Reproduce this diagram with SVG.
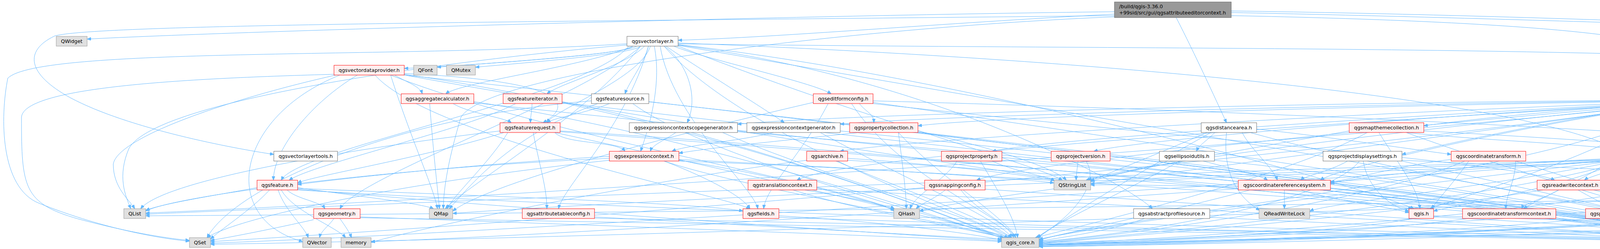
<svg xmlns="http://www.w3.org/2000/svg" width="6568" height="637" viewBox="0 0 6568 637">
<defs>
<style>
.e path{fill:none;stroke:#63B8FF;stroke-width:1;marker-end:url(#ah)}
.g rect{fill:#E0E0E0;stroke:#999999;stroke-width:1}
.w rect{fill:#FFFFFF;stroke:#666666;stroke-width:1}
.r rect{fill:#FFF0F0;stroke:#FF0000;stroke-width:1}
.rt rect{fill:#999999;stroke:#666666;stroke-width:1}
text{font-family:"DejaVu Sans","Liberation Sans",sans-serif;font-size:12.8px;fill:#000000}
.n text{text-anchor:middle}
.rt text{text-anchor:start}
</style>
<marker id="ah" viewBox="0 0 10 8" refX="10" refY="4" markerWidth="10" markerHeight="8" markerUnits="userSpaceOnUse" orient="auto"><path d="M0,0L10,4L0,8z" fill="#63B8FF" stroke="#63B8FF" stroke-width="1"/></marker>
</defs>
<rect width="6568" height="637" fill="#FFFFFF"/>
<g id="connectors" class="e">
<path d="M2853,30 C2000,40 600,80 223,100"/>
<path d="M2853,36 C2400,60 2000,95 1736,103"/>
<path d="M3152,28 C4000,40 4900,80 5161,100"/>
<path d="M3011,45 C3060,140 3110,250 3140,314"/>
<path d="M2853,40 C1500,55 250,60 140,92 C60,130 70,190 180,250 C330,330 600,380 701,395"/>
<path d="M3152,40 C3900,55 4250,90 4300,140 C4335,180 4340,210 4341,240"/>
<path d="M3152,32 C4500,60 6450,140 6560,180 C6565,300 6562,480 6540,540 C6450,600 6300,605 6174,612"/>
<path d="M2853,43 C2200,70 1250,180 1180,300 C1150,400 1135,480 1135,534"/>
<path d="M1620,118 C1620,140 1125,172 1035,175"/>
<path d="M1630,118 C1600,140 1200,165 1119,172"/>
<path d="M1640,118 C1620,140 1290,165 1217,172"/>
<path d="M1620,118 C1500,170 1180,210 1141,240"/>
<path d="M1650,118 C1600,170 1440,210 1400,240"/>
<path d="M1660,118 C1650,160 1610,210 1600,240"/>
<path d="M1665,118 C1640,200 1420,280 1400,314"/>
<path d="M1700,118 C1760,160 1790,250 1759,314"/>
<path d="M1705,118 C1750,150 1960,280 2008,314"/>
<path d="M1725,118 C1800,150 2080,210 2128,240"/>
<path d="M1675,118 C1695,220 1660,330 1640,387"/>
<path d="M1610,118 C1500,250 760,380 720,461"/>
<path d="M1690,118 C1720,300 1930,480 1940,534"/>
<path d="M1660,118 C1600,330 1440,480 1430,534"/>
<path d="M1736,112 C3000,130 4500,110 5200,200 C5400,300 5460,400 5460,461"/>
<path d="M1736,115 C2400,200 2900,480 2950,534"/>
<path d="M1736,110 C2800,150 3900,250 4150,387"/>
<path d="M1736,114 C2500,200 3500,480 3620,534"/>
<path d="M1700,118 C1900,350 2500,560 2590,608"/>
<path d="M1736,116 C2800,300 4300,550 4460,608"/>
<path d="M1640,118 C1500,300 1200,470 1140,534"/>
<path d="M1605,112 C1000,150 100,120 20,200 C0,300 0,480 100,520 C250,580 400,610 485,617"/>
<path d="M1605,115 C1200,150 400,250 330,380 C300,450 320,500 335,534"/>
<path d="M1736,118 C2200,300 2650,420 2720,461"/>
<path d="M1640,118 C1500,250 920,450 870,534"/>
<path d="M1010,192 C1040,210 1075,220 1081,240"/>
<path d="M1035,188 C1500,210 1450,280 1390,314"/>
<path d="M915,192 C800,260 700,380 700,461"/>
<path d="M960,192 C1100,350 1850,500 1920,534"/>
<path d="M1000,192 C1050,350 1110,480 1120,534"/>
<path d="M860,192 C600,250 300,350 290,420 C290,480 330,510 345,534"/>
<path d="M855,190 C500,200 60,220 55,300 C55,480 60,520 200,560 C350,600 450,612 485,615"/>
<path d="M1000,192 C1400,350 2200,480 2290,540"/>
<path d="M1035,190 C1800,300 2450,560 2570,612"/>
<path d="M1035,192 C2500,350 4300,560 4440,612"/>
<path d="M1035,192 C1800,330 2600,440 2720,461"/>
<path d="M870,192 C600,300 560,560 775,618"/>
<path d="M1160,265 C1200,290 1290,300 1309,314"/>
<path d="M1100,265 C1110,400 1120,480 1125,534"/>
<path d="M1213,260 C1800,350 2450,570 2575,612"/>
<path d="M1213,263 C2500,400 4300,570 4450,613"/>
<path d="M1362,265 C1362,285 1358,295 1358,314"/>
<path d="M1320,265 C1200,330 800,420 740,461"/>
<path d="M1439,260 C1900,350 2450,560 2580,612"/>
<path d="M1439,262 C2600,400 4300,570 4455,613"/>
<path d="M1560,265 C1500,290 1420,300 1400,314"/>
<path d="M1514,258 C1000,300 600,480 530,608"/>
<path d="M1620,265 C1800,400 2450,570 2585,610"/>
<path d="M1661,260 C2700,380 4300,570 4460,612"/>
<path d="M1530,265 C1300,350 1200,480 1150,534"/>
<path d="M1420,339 C1450,370 1580,360 1600,387"/>
<path d="M1300,339 C1250,420 1160,500 1145,534"/>
<path d="M1365,339 C1380,420 1400,480 1400,534"/>
<path d="M1434,335 C2200,380 3400,500 3615,534"/>
<path d="M1420,339 C1800,420 2450,570 2590,608"/>
<path d="M1434,337 C2600,420 4300,570 4465,608"/>
<path d="M1280,335 C900,380 420,460 360,534"/>
<path d="M1290,339 C1100,400 800,450 762,468"/>
<path d="M2200,265 C2220,290 2237,290 2237,314"/>
<path d="M2082,262 C1700,350 1250,470 1159,540"/>
<path d="M2120,265 C2050,400 1960,480 1955,534"/>
<path d="M2180,265 C2300,450 2580,560 2600,608"/>
<path d="M2235,262 C3200,400 4300,570 4470,610"/>
<path d="M2235,265 C3000,350 3900,420 3980,461"/>
<path d="M2235,258 C3800,300 5600,400 5690,534"/>
<path d="M4393,262 C4450,280 4540,300 4581,318"/>
<path d="M4393,261 C4500,280 4640,300 4685,318"/>
<path d="M4393,260 C4550,275 4750,300 4805,318"/>
<path d="M4290,262 C4000,280 3720,310 3645,322"/>
<path d="M4290,258 C3500,270 2500,300 2350,322"/>
<path d="M4290,257 C3500,265 2300,300 2151,318"/>
<path d="M4290,256 C3300,262 2100,295 1888,318"/>
<path d="M4290,265 C4000,300 3650,380 3589,395"/>
<path d="M4350,265 C4360,330 4320,390 4253,397"/>
<path d="M4330,265 C4340,380 4200,440 4100,463"/>
<path d="M4360,265 C4380,400 4300,530 4223,540"/>
<path d="M4310,265 C4200,400 3950,500 3900,534"/>
<path d="M4290,264 C3900,320 3420,430 3380,461"/>
<path d="M4290,263 C3500,330 2600,420 2500,461"/>
<path d="M4290,262 C3600,300 2900,360 2800,387"/>
<path d="M4290,261 C3500,300 2650,360 2540,387"/>
<path d="M4290,260 C3400,290 2300,360 2150,387"/>
<path d="M4290,264 C3300,320 2150,400 2040,461"/>
<path d="M4393,264 C4450,350 4520,480 4520,534"/>
<path d="M4393,265 C4600,350 4850,420 4858,461"/>
<path d="M4393,262 C4700,300 5050,350 5115,461"/>
<path d="M4393,258 C5200,280 5900,320 6108,461"/>
<path d="M4393,256 C5300,270 6200,320 6391,461"/>
<path d="M4393,263 C5300,300 6200,420 6164,534"/>
<path d="M4393,255 C5500,260 6400,300 6490,460 C6510,500 6450,530 6389,540"/>
<path d="M4393,264 C5000,320 5650,450 5690,534"/>
<path d="M4290,265 C3000,400 1000,520 373,545"/>
<path d="M4290,265 C3600,330 2900,420 2780,461"/>
<path d="M4290,265 C3500,380 2500,500 2354,540"/>
<path d="M4290,265 C3000,450 1200,580 539,618"/>
<path d="M4300,265 C4000,450 2800,560 2660,615"/>
<path d="M4380,265 C4420,400 4470,560 4475,608"/>
<path d="M4370,265 C4380,350 4350,430 4320,461"/>
<path d="M4300,265 C4100,400 3720,510 3660,534"/>
<path d="M4957,335 C5400,380 5680,480 5700,534"/>
<path d="M4820,339 C4700,360 4260,370 4240,387"/>
<path d="M4805,339 C4000,420 2900,560 2660,612"/>
<path d="M4850,339 C4700,450 4530,560 4500,608"/>
<path d="M3645,335 C4500,380 5500,470 5675,534"/>
<path d="M3600,339 C3800,360 4100,370 4165,387"/>
<path d="M3454,335 C3200,380 2850,440 2792,465"/>
<path d="M3500,339 C3300,450 2800,570 2650,608"/>
<path d="M3600,339 C3900,450 4350,570 4445,610"/>
<path d="M3530,339 C3580,420 3630,480 3635,534"/>
<path d="M3110,339 C3090,360 3070,370 3063,387"/>
<path d="M3217,330 C3400,350 3600,380 3715,395"/>
<path d="M3180,339 C3200,380 3260,430 3270,461"/>
<path d="M3090,339 C2950,400 2820,450 2792,463"/>
<path d="M3100,339 C2900,450 2720,560 2655,610"/>
<path d="M3200,339 C3600,450 4300,560 4440,612"/>
<path d="M3140,339 C3130,430 3160,500 3225,538"/>
<path d="M2200,339 C2000,360 1800,380 1738,392"/>
<path d="M2300,339 C2310,420 2320,490 2320,534"/>
<path d="M2350,335 C2550,380 2700,430 2730,461"/>
<path d="M2300,339 C2400,450 2580,560 2600,608"/>
<path d="M2350,339 C3000,420 4200,560 4445,612"/>
<path d="M1980,339 C1900,360 1760,370 1720,387"/>
<path d="M2100,339 C2300,450 2560,560 2590,608"/>
<path d="M2151,335 C3000,420 4200,560 4440,614"/>
<path d="M1730,339 C1700,360 1670,370 1665,387"/>
<path d="M1850,339 C2100,450 2520,560 2580,610"/>
<path d="M1888,337 C2900,420 4200,560 4450,612"/>
<path d="M1738,410 C2000,450 2250,520 2290,538"/>
<path d="M1738,408 C2200,430 2600,455 2698,468"/>
<path d="M1560,410 C1000,470 600,560 530,608"/>
<path d="M1560,405 C1000,430 450,500 373,540"/>
<path d="M1700,412 C1800,450 1900,500 1920,534"/>
<path d="M1560,400 C1200,420 850,460 762,472"/>
<path d="M1700,412 C1900,480 2450,570 2580,612"/>
<path d="M1738,412 C2800,450 4300,580 4450,615"/>
<path d="M2170,405 C2400,420 2650,450 2700,462"/>
<path d="M2140,412 C2300,480 2550,570 2590,610"/>
<path d="M2170,410 C3000,460 4300,580 4455,614"/>
<path d="M2065,410 C1600,470 1050,590 950,620"/>
<path d="M2450,412 C2420,460 2340,500 2330,534"/>
<path d="M2540,412 C2600,440 2680,450 2700,463"/>
<path d="M2510,412 C2550,480 2600,560 2605,608"/>
<path d="M2565,410 C3200,460 4300,580 4460,615"/>
<path d="M2760,412 C2758,430 2755,445 2755,461"/>
<path d="M2780,412 C2820,470 2740,560 2650,610"/>
<path d="M3080,412 C3150,430 3230,450 3245,461"/>
<path d="M2990,412 C2900,440 2800,455 2785,461"/>
<path d="M3020,412 C2900,480 2700,570 2655,608"/>
<path d="M3109,410 C3600,460 4300,580 4445,616"/>
<path d="M3450,412 C3400,440 3340,450 3330,461"/>
<path d="M3490,412 C3500,480 3560,530 3607,540"/>
<path d="M3589,410 C4500,450 5500,500 5664,540"/>
<path d="M3480,412 C3400,520 2900,600 2660,618"/>
<path d="M3589,412 C3900,480 4350,580 4445,617"/>
<path d="M3715,408 C3600,420 3480,455 3406,466"/>
<path d="M3880,412 C3880,460 3855,500 3855,534"/>
<path d="M3760,412 C3720,470 3680,510 3665,534"/>
<path d="M3750,412 C3500,520 2900,600 2660,620"/>
<path d="M3880,412 C4100,480 4400,580 4450,610"/>
<path d="M4170,412 C4130,440 4070,450 4056,461"/>
<path d="M4134,405 C3800,420 3480,450 3406,470"/>
<path d="M4253,405 C4800,430 5500,500 5670,536"/>
<path d="M4134,410 C3000,480 1200,600 539,622"/>
<path d="M4134,408 C3000,440 1000,520 373,548"/>
<path d="M4134,409 C3000,450 1500,520 1159,546"/>
<path d="M4140,412 C3800,430 3000,455 2792,470"/>
<path d="M4150,412 C4000,480 3750,520 3670,540"/>
<path d="M4160,412 C3800,520 2900,600 2660,622"/>
<path d="M4220,412 C4300,500 4440,570 4460,608"/>
<path d="M4140,412 C3800,480 3400,520 3353,540"/>
<path d="M4134,410 C3000,500 1500,600 950,618"/>
<path d="M735,486 C760,510 820,515 832,534"/>
<path d="M712,486 C730,540 780,580 789,608"/>
<path d="M720,486 C750,540 860,580 885,608"/>
<path d="M658,480 C550,500 420,520 373,538"/>
<path d="M690,486 C640,540 560,590 539,612"/>
<path d="M762,480 C900,500 1080,520 1110,534"/>
<path d="M762,482 C1200,500 1800,520 1902,540"/>
<path d="M762,484 C1400,540 2300,600 2564,616"/>
<path d="M762,486 C2000,560 4000,600 4439,618"/>
<path d="M2030,486 C2200,540 2500,590 2570,608"/>
<path d="M2091,484 C3000,530 4200,600 4439,620"/>
<path d="M2060,486 C2200,510 2270,525 2290,534"/>
<path d="M2420,486 C2390,510 2360,520 2345,534"/>
<path d="M2460,486 C2500,540 2580,570 2595,608"/>
<path d="M2522,484 C3200,530 4200,600 4439,622"/>
<path d="M3288,486 C3288,505 3288,515 3288,534"/>
<path d="M3330,486 C3400,510 3560,530 3607,544"/>
<path d="M3200,486 C3000,540 2750,590 2660,614"/>
<path d="M3380,486 C3800,530 4300,600 4439,624"/>
<path d="M3170,478 C3000,475 2850,472 2792,473"/>
<path d="M3990,486 C3950,510 3900,520 3896,534"/>
<path d="M4040,486 C4080,510 4110,520 4115,534"/>
<path d="M3950,486 C3500,560 2900,600 2660,624"/>
<path d="M4080,486 C4300,540 4440,580 4460,608"/>
<path d="M4331,480 C4900,500 5500,520 5664,544"/>
<path d="M4200,486 C3800,560 3000,610 2660,626"/>
<path d="M4260,486 C4300,540 4430,590 4450,608"/>
<path d="M4809,486 C4700,560 4600,600 4526,615"/>
<path d="M4708,484 C4000,560 3000,615 2660,628"/>
<path d="M5236,480 C5450,500 5600,520 5664,536"/>
<path d="M5006,480 C3500,540 1500,610 539,625"/>
<path d="M5100,486 C4500,570 3200,620 2660,630"/>
<path d="M5050,486 C4900,560 4600,600 4526,618"/>
<path d="M5502,486 C5560,505 5630,525 5664,538"/>
<path d="M5362,484 C4500,570 3200,625 2660,631"/>
<path d="M5400,486 C5000,570 4700,600 4526,620"/>
<path d="M6160,486 C6230,505 6300,525 6333,538"/>
<path d="M6043,482 C5900,500 5780,520 5739,536"/>
<path d="M6043,484 C4000,520 1000,550 373,552"/>
<path d="M6080,486 C5000,570 3500,620 2660,631"/>
<path d="M6060,486 C5500,560 4800,610 4526,622"/>
<path d="M6396,486 C6390,505 6375,520 6372,534"/>
<path d="M6334,478 C6100,490 5850,520 5739,540"/>
<path d="M6410,486 C6430,540 6420,565 6380,570 C5500,580 3500,600 2660,626"/>
<path d="M6334,484 C5800,540 5000,600 4526,624"/>
<path d="M6122,559 C6122,575 6122,590 6122,608"/>
<path d="M6067,550 C5000,570 3500,600 2660,628"/>
<path d="M6067,555 C5500,580 4800,610 4526,626"/>
<path d="M3620,559 C3400,600 2900,615 2660,621"/>
<path d="M3670,555 C4000,570 4350,600 4439,612"/>
<path d="M3670,552 C4500,580 5800,610 6071,618"/>
<path d="M3760,559 C3400,605 2900,618 2660,624"/>
<path d="M3960,559 C4200,590 4380,605 4439,614"/>
<path d="M4070,559 C3600,605 3000,620 2660,626"/>
<path d="M4200,559 C4300,590 4420,600 4445,608"/>
<path d="M4482,559 C4482,575 4482,590 4482,608"/>
<path d="M4399,555 C3800,600 3000,622 2660,628"/>
<path d="M1522,555 C2000,580 2400,605 2564,612"/>
<path d="M1522,558 C3000,590 4200,610 4439,616"/>
<path d="M1994,552 C2300,570 2500,600 2564,614"/>
<path d="M1994,556 C3000,590 4200,612 4439,620"/>
<path d="M855,559 C840,580 822,590 818,608"/>
<path d="M870,559 C885,580 895,595 900,608"/>
<path d="M803,562 C700,585 600,605 539,615"/>
<path d="M922,555 C1500,575 2300,605 2564,618"/>
<path d="M922,557 C2500,585 4200,612 4439,622"/>
<path d="M2930,559 C2850,590 2700,610 2660,617"/>
<path d="M3097,556 C3600,580 4300,610 4439,626"/>
</g>
<g id="nodes">
<g id="root" class="rt"><rect x="2853" y="5" width="299" height="40"/><text x="2865" y="21">/build/qgis-3.36.0</text><text x="2865" y="37">+99sid/src/gui/qgsattributeeditorcontext.h</text></g>
<g id="n_QWidget" class="n g"><rect x="144" y="93" width="79" height="25"/><text x="183.5" y="110">QWidget</text></g>
<g id="n_vectorlayer" class="n w"><rect x="1605" y="93" width="131" height="25"/><text x="1670.5" y="110">qgsvectorlayer.h</text></g>
<g id="n_qgis_gui" class="n g"><rect x="5161" y="93" width="88" height="25"/><text x="5205" y="110">qgis_gui.h</text></g>
<g id="n_vectordataprovider" class="n r"><rect x="855" y="167" width="180" height="25"/><text x="945" y="184">qgsvectordataprovider.h</text></g>
<g id="n_QFont" class="n g"><rect x="1059" y="167" width="60" height="25"/><text x="1089" y="184">QFont</text></g>
<g id="n_QMutex" class="n g"><rect x="1143" y="167" width="74" height="25"/><text x="1180" y="184">QMutex</text></g>
<g id="n_aggregatecalculator" class="n r"><rect x="1027" y="240" width="186" height="25"/><text x="1120" y="257">qgsaggregatecalculator.h</text></g>
<g id="n_featureiterator" class="n r"><rect x="1288" y="240" width="151" height="25"/><text x="1363.5" y="257">qgsfeatureiterator.h</text></g>
<g id="n_featuresource" class="n w"><rect x="1514" y="240" width="147" height="25"/><text x="1587.5" y="257">qgsfeaturesource.h</text></g>
<g id="n_editformconfig" class="n r"><rect x="2082" y="240" width="153" height="25"/><text x="2158.5" y="257">qgseditformconfig.h</text></g>
<g id="n_project" class="n w"><rect x="4290" y="240" width="103" height="25"/><text x="4341.5" y="257">qgsproject.h</text></g>
<g id="n_featurerequest" class="n r"><rect x="1280" y="314" width="154" height="25"/><text x="1357" y="331">qgsfeaturerequest.h</text></g>
<g id="n_ecscopegenerator" class="n w"><rect x="1611" y="314" width="277" height="25"/><text x="1749.5" y="331">qgsexpressioncontextscopegenerator.h</text></g>
<g id="n_ecgenerator" class="n w"><rect x="1912" y="314" width="239" height="25"/><text x="2031.5" y="331">qgsexpressioncontextgenerator.h</text></g>
<g id="n_propertycollection" class="n r"><rect x="2175" y="314" width="175" height="25"/><text x="2262.5" y="331">qgspropertycollection.h</text></g>
<g id="n_distancearea" class="n w"><rect x="3075" y="314" width="142" height="25"/><text x="3146" y="331">qgsdistancearea.h</text></g>
<g id="n_mapthemecollection" class="n r"><rect x="3454" y="314" width="191" height="25"/><text x="3549.5" y="331">qgsmapthemecollection.h</text></g>
<g id="n_QFileInfo" class="n g"><rect x="4581" y="314" width="80" height="25"/><text x="4621" y="331">QFileInfo</text></g>
<g id="n_QTranslator" class="n g"><rect x="4685" y="314" width="96" height="25"/><text x="4733" y="331">QTranslator</text></g>
<g id="n_maplayerstore" class="n w"><rect x="4805" y="314" width="152" height="25"/><text x="4881" y="331">qgsmaplayerstore.h</text></g>
<g id="n_vectorlayertools" class="n w"><rect x="701" y="387" width="163" height="25"/><text x="782.5" y="404">qgsvectorlayertools.h</text></g>
<g id="n_expressioncontext" class="n r"><rect x="1560" y="387" width="178" height="25"/><text x="1649" y="404">qgsexpressioncontext.h</text></g>
<g id="n_archive" class="n r"><rect x="2065" y="387" width="105" height="25"/><text x="2117.5" y="404">qgsarchive.h</text></g>
<g id="n_projectproperty" class="n r"><rect x="2410" y="387" width="155" height="25"/><text x="2487.5" y="404">qgsprojectproperty.h</text></g>
<g id="n_projectversion" class="n r"><rect x="2691" y="387" width="151" height="25"/><text x="2766.5" y="404">qgsprojectversion.h</text></g>
<g id="n_ellipsoidutils" class="n w"><rect x="2968" y="387" width="141" height="25"/><text x="3038.5" y="404">qgsellipsoidutils.h</text></g>
<g id="n_projectdisplaysettings" class="n w"><rect x="3387" y="387" width="202" height="25"/><text x="3488" y="404">qgsprojectdisplaysettings.h</text></g>
<g id="n_coordinatetransform" class="n r"><rect x="3715" y="387" width="191" height="25"/><text x="3810.5" y="404">qgscoordinatetransform.h</text></g>
<g id="n_maplayer" class="n r"><rect x="4134" y="387" width="119" height="25"/><text x="4193.5" y="404">qgsmaplayer.h</text></g>
<g id="n_feature" class="n r"><rect x="658" y="461" width="104" height="25"/><text x="710" y="478">qgsfeature.h</text></g>
<g id="n_translationcontext" class="n r"><rect x="1915" y="461" width="176" height="25"/><text x="2003" y="478">qgstranslationcontext.h</text></g>
<g id="n_snappingconfig" class="n r"><rect x="2367" y="461" width="155" height="25"/><text x="2444.5" y="478">qgssnappingconfig.h</text></g>
<g id="n_QStringList" class="n g"><rect x="2698" y="461" width="94" height="25"/><text x="2745" y="478">QStringList</text></g>
<g id="n_crs" class="n r"><rect x="3170" y="461" width="236" height="25"/><text x="3288" y="478">qgscoordinatereferencesystem.h</text></g>
<g id="n_readwritecontext" class="n r"><rect x="3935" y="461" width="169" height="25"/><text x="4019.5" y="478">qgsreadwritecontext.h</text></g>
<g id="n_abstractsensor" class="n r"><rect x="4178" y="461" width="153" height="25"/><text x="4254.5" y="478">qgsabstractsensor.h</text></g>
<g id="n_elevationshading" class="n r"><rect x="4708" y="461" width="223" height="25"/><text x="4819.5" y="478">qgselevationshadingrenderer.h</text></g>
<g id="n_editbuffergroup" class="n w"><rect x="5006" y="461" width="230" height="25"/><text x="5121" y="478">qgsvectorlayereditbuffergroup.h</text></g>
<g id="n_simplifymethod" class="n r"><rect x="5362" y="461" width="201" height="25"/><text x="5462.5" y="478">qgsvectorsimplifymethod.h</text></g>
<g id="n_relationmanager" class="n r"><rect x="6043" y="461" width="164" height="25"/><text x="6125" y="478">qgsrelationmanager.h</text></g>
<g id="n_colorscheme" class="n r"><rect x="6334" y="461" width="140" height="25"/><text x="6404" y="478">qgscolorscheme.h</text></g>
<g id="n_QList" class="n g"><rect x="317" y="534" width="56" height="25"/><text x="345" y="551">QList</text></g>
<g id="n_geometry" class="n r"><rect x="803" y="534" width="119" height="25"/><text x="862.5" y="551">qgsgeometry.h</text></g>
<g id="n_QMap" class="n g"><rect x="1099" y="534" width="60" height="25"/><text x="1129" y="551">QMap</text></g>
<g id="n_attributetableconfig" class="n r"><rect x="1337" y="534" width="185" height="25"/><text x="1429.5" y="551">qgsattributetableconfig.h</text></g>
<g id="n_fields" class="n r"><rect x="1902" y="534" width="92" height="25"/><text x="1948" y="551">qgsfields.h</text></g>
<g id="n_QHash" class="n g"><rect x="2288" y="534" width="66" height="25"/><text x="2321" y="551">QHash</text></g>
<g id="n_abstractprofilesource" class="n w"><rect x="2902" y="534" width="195" height="25"/><text x="2999.5" y="551">qgsabstractprofilesource.h</text></g>
<g id="n_QReadWriteLock" class="n g"><rect x="3223" y="534" width="130" height="25"/><text x="3288" y="551">QReadWriteLock</text></g>
<g id="n_qgis" class="n r"><rect x="3607" y="534" width="63" height="25"/><text x="3638.5" y="551">qgis.h</text></g>
<g id="n_ctcontext" class="n r"><rect x="3744" y="534" width="239" height="25"/><text x="3863.5" y="551">qgscoordinatetransformcontext.h</text></g>
<g id="n_projecttranslator" class="n r"><rect x="4059" y="534" width="164" height="25"/><text x="4141" y="551">qgsprojecttranslator.h</text></g>
<g id="n_projectmetadata" class="n r"><rect x="4399" y="534" width="166" height="25"/><text x="4482" y="551">qgsprojectmetadata.h</text></g>
<g id="n_QObject" class="n g"><rect x="5664" y="534" width="75" height="25"/><text x="5701.5" y="551">QObject</text></g>
<g id="n_settings" class="n r"><rect x="6067" y="534" width="110" height="25"/><text x="6122" y="551">qgssettings.h</text></g>
<g id="n_QPair" class="n g"><rect x="6333" y="534" width="56" height="25"/><text x="6361" y="551">QPair</text></g>
<g id="n_QSet" class="n g"><rect x="485" y="608" width="54" height="25"/><text x="512" y="625">QSet</text></g>
<g id="n_QVector" class="n g"><rect x="775" y="608" width="73" height="25"/><text x="811.5" y="625">QVector</text></g>
<g id="n_memory" class="n g"><rect x="873" y="608" width="77" height="25"/><text x="911.5" y="625">memory</text></g>
<g id="n_qgis_core" class="n g"><rect x="2564" y="608" width="96" height="25"/><text x="2612" y="625">qgis_core.h</text></g>
<g id="n_qgis_sip" class="n w"><rect x="4439" y="608" width="87" height="25"/><text x="4482.5" y="625">qgis_sip.h</text></g>
<g id="n_QMetaEnum" class="n g"><rect x="6071" y="608" width="103" height="25"/><text x="6122.5" y="625">QMetaEnum</text></g>
</g>
</svg>
